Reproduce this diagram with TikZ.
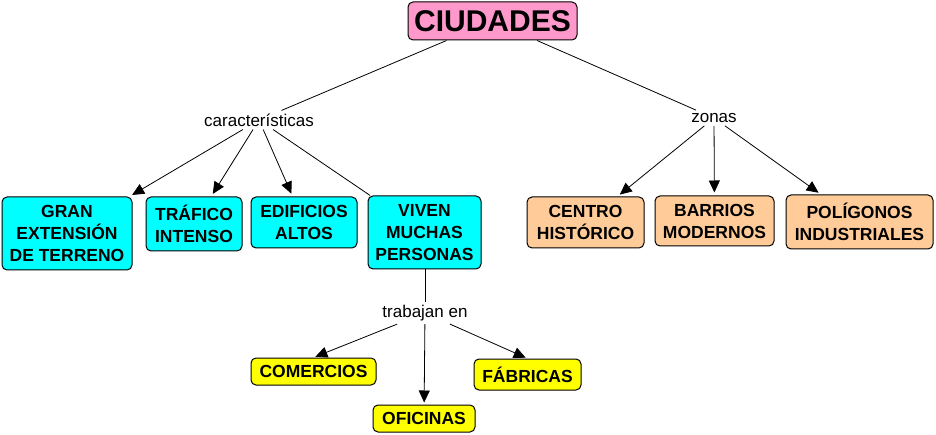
\documentclass[tikz,border=0pt]{standalone}
\usepackage{fontspec}
\setmainfont{Liberation Sans}
\usetikzlibrary{arrows.meta}
\definecolor{pinkc}{HTML}{FF99CC}
\definecolor{cyanc}{HTML}{00FFFF}
\definecolor{orangec}{HTML}{FFCC99}
\definecolor{yellowc}{HTML}{FFFF00}
\tikzset{
  concept/.style={draw=black, line width=1pt, rounded corners=5pt, align=center, inner sep=0pt,
    font=\fontsize{17.5}{22}\selectfont\bfseries},
  linklabel/.style={inner sep=3pt, font=\fontsize{17}{18}\selectfont},
  conn/.style={line width=0.8pt},
  arr/.style={line width=0.8pt, -{Triangle[length=12pt,width=11pt]}},
}
\begin{document}
\begin{tikzpicture}[x=1pt,y=-1pt]
\useasboundingbox (0,0) rectangle (936,435);
% main
\node[concept, fill=pinkc, minimum width=169pt, minimum height=38pt, font=\fontsize{30}{34}\selectfont\bfseries] (ciu) at (492.5,21) {CIUDADES};
% labels
\node[linklabel] (car) at (259,120) {características};
\node[linklabel] (zon) at (714,118) {zonas};
\node[linklabel] (tra) at (425,313) {trabajan en};
% cyan
\node[concept, fill=cyanc, minimum width=130pt, minimum height=73pt] (gran) at (67,233.5) {GRAN\\EXTENSIÓN\\DE TERRENO};
\node[concept, fill=cyanc, minimum width=96pt, minimum height=54pt] (traf) at (194,224) {TRÁFICO\\INTENSO};
\node[concept, fill=cyanc, minimum width=106pt, minimum height=51pt] (edif) at (304,222.5) {EDIFICIOS\\ALTOS};
\node[concept, fill=cyanc, minimum width=113pt, minimum height=73pt] (viv) at (424.5,232.5) {VIVEN\\MUCHAS\\PERSONAS};
% orange
\node[concept, fill=orangec, minimum width=117pt, minimum height=51pt] (cen) at (585.5,222.5) {CENTRO\\HISTÓRICO};
\node[concept, fill=orangec, minimum width=119pt, minimum height=50pt] (bar) at (714.5,221) {BARRIOS\\MODERNOS};
\node[concept, fill=orangec, minimum width=147pt, minimum height=54pt] (pol) at (859.5,222) {POLÍGONOS\\INDUSTRIALES};
% yellow
\node[concept, fill=yellowc, minimum width=125pt, minimum height=27pt] (com) at (313.5,371.5) {COMERCIOS};
\node[concept, fill=yellowc, minimum width=102pt, minimum height=27pt] (ofi) at (424,418.5) {OFICINAS};
\node[concept, fill=yellowc, minimum width=107pt, minimum height=31pt] (fab) at (527.5,374.5) {FÁBRICAS};
% connectors
\draw[conn] (ciu) -- (car);
\draw[conn] (ciu) -- (zon);
\draw[arr, shorten >=3pt] (car) -- (gran);
\draw[arr, shorten >=3pt] (car) -- (traf);
\draw[arr, shorten >=3pt] (car) -- (edif);
\draw[conn] (car) -- (viv);
\draw[arr, shorten >=3pt] (zon) -- (cen);
\draw[arr, shorten >=3pt] (zon) -- (bar);
\draw[arr, shorten >=3pt] (zon) -- (pol);
\draw[conn] (viv.south -| tra) -- (tra);
\draw[arr, shorten >=2pt] (tra) -- (com.north);
\draw[arr, shorten >=2pt] (tra) -- (ofi);
\draw[arr, shorten >=2pt] (tra) -- (fab.north);
\end{tikzpicture}
\end{document}
